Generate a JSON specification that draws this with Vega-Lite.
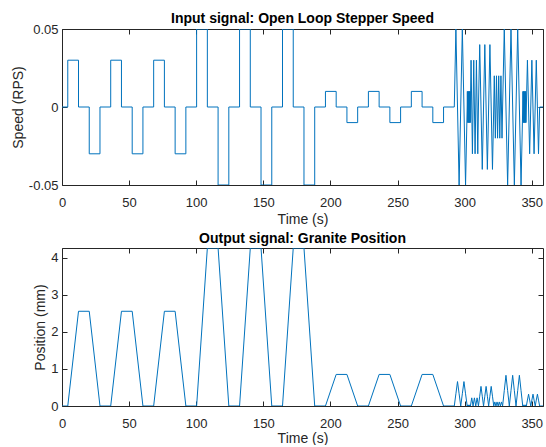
{
  "$schema": "https://vega.github.io/schema/vega-lite/v6.json",
  "padding": {"left": 11, "top": 12, "right": 2, "bottom": 0},
  "spacing": 5,
  "config": {
    "font": "Liberation Sans",
    "view": {"stroke": null},
    "axis": {
      "grid": false,
      "domainColor": "#262626",
      "domainWidth": 1,
      "tickColor": "#262626",
      "tickSize": -5,
      "labelColor": "#262626",
      "labelFont": "Liberation Sans",
      "labelFontSize": 13,
      "titleColor": "#262626",
      "titleFont": "Liberation Sans",
      "titleFontSize": 14,
      "titleFontWeight": "normal",
      "labelFlush": false
    },
    "axisX": {"labelPadding": 16},
    "axisY": {"labelPadding": 9},
    "title": {"font": "Liberation Sans", "fontSize": 14, "fontWeight": "bold", "color": "#000000", "offset": -3, "frame": "group"}
  },
  "datasets": {
    "input": [
      {"t":0,"v":0},{"t":4.3,"v":0},{"t":4.3,"v":0.03},{"t":12.3,"v":0.03},{"t":12.3,"v":0},{"t":20.3,"v":0},{"t":20.3,"v":-0.03},{"t":28.3,"v":-0.03},{"t":28.3,"v":0},{"t":36.3,"v":0},{"t":36.3,"v":0.03},{"t":44.3,"v":0.03},{"t":44.3,"v":0},{"t":52.3,"v":0},{"t":52.3,"v":-0.03},{"t":60.3,"v":-0.03},{"t":60.3,"v":0},{"t":68.3,"v":0},{"t":68.3,"v":0.03},{"t":76.3,"v":0.03},{"t":76.3,"v":0},{"t":84.3,"v":0},{"t":84.3,"v":-0.03},{"t":92.3,"v":-0.03},{"t":92.3,"v":0},{"t":100.3,"v":0},{"t":100.3,"v":0.05},{"t":108.3,"v":0.05},{"t":108.3,"v":0},{"t":116.3,"v":0},{"t":116.3,"v":-0.05},{"t":124.3,"v":-0.05},{"t":124.3,"v":0},{"t":132.3,"v":0},{"t":132.3,"v":0.05},{"t":140.3,"v":0.05},{"t":140.3,"v":0},{"t":148.3,"v":0},{"t":148.3,"v":-0.05},{"t":156.3,"v":-0.05},{"t":156.3,"v":0},{"t":164.3,"v":0},{"t":164.3,"v":0.05},{"t":172.3,"v":0.05},{"t":172.3,"v":0},{"t":180.3,"v":0},{"t":180.3,"v":-0.05},{"t":188.3,"v":-0.05},{"t":188.3,"v":0},{"t":196.3,"v":0},{"t":196.3,"v":0.01},{"t":204.3,"v":0.01},{"t":204.3,"v":0},{"t":212.3,"v":0},{"t":212.3,"v":-0.01},{"t":220.3,"v":-0.01},{"t":220.3,"v":0},{"t":228.3,"v":0},{"t":228.3,"v":0.01},{"t":236.3,"v":0.01},{"t":236.3,"v":0},{"t":244.3,"v":0},{"t":244.3,"v":-0.01},{"t":252.3,"v":-0.01},{"t":252.3,"v":0},{"t":260.3,"v":0},{"t":260.3,"v":0.01},{"t":268.3,"v":0.01},{"t":268.3,"v":0},{"t":276.3,"v":0},{"t":276.3,"v":-0.01},{"t":284.3,"v":-0.01},{"t":284.3,"v":0},{"t":292.3,"v":0},
      {"t":293.5,"v":0.05},{"t":295.9,"v":-0.05},{"t":298.3,"v":0.05},{"t":300.7,"v":-0.05},{"t":301.9,"v":0},
      {"t":302.05,"v":0.01},{"t":302.3,"v":-0.01},{"t":302.55,"v":0.01},{"t":302.8,"v":-0.01},{"t":303.05,"v":0.01},{"t":303.3,"v":-0.01},{"t":303.55,"v":0.01},{"t":303.8,"v":-0.01},{"t":304.05,"v":0.01},{"t":304.2,"v":-0.01},{"t":304.3,"v":0},
      {"t":304.8,"v":0.03},{"t":305.8,"v":-0.03},{"t":306.8,"v":0.03},{"t":307.8,"v":-0.03},{"t":308.8,"v":0.03},{"t":309.8,"v":-0.03},{"t":310.3,"v":0},
      {"t":311.25,"v":0.04},{"t":313.15,"v":-0.04},{"t":315.05,"v":0.04},{"t":316.95,"v":-0.04},{"t":318.85,"v":0.04},{"t":320.75,"v":-0.04},{"t":321.7,"v":0},
      {"t":322.1,"v":0.02},{"t":322.9,"v":-0.02},{"t":323.75,"v":0.02},{"t":324.55,"v":-0.02},{"t":325.4,"v":0.02},{"t":326.2,"v":-0.02},{"t":327.05,"v":0.02},{"t":327.85,"v":-0.02},{"t":328.3,"v":0},
      {"t":329.55,"v":0.05},{"t":332.05,"v":-0.05},{"t":334.55,"v":0.05},{"t":337.05,"v":-0.05},{"t":339.55,"v":0.05},{"t":342.05,"v":-0.05},{"t":343.3,"v":0},
      {"t":343.45,"v":0.01},{"t":343.7,"v":-0.01},{"t":343.95,"v":0.01},{"t":344.2,"v":-0.01},{"t":344.45,"v":0.01},{"t":344.7,"v":-0.01},{"t":344.95,"v":0.01},{"t":345.2,"v":-0.01},{"t":345.45,"v":0.01},{"t":345.7,"v":-0.01},{"t":346.0,"v":0},
      {"t":346.8,"v":0.03},{"t":348.45,"v":-0.03},{"t":350.1,"v":0.03},{"t":351.75,"v":-0.03},{"t":353.4,"v":0.03},{"t":355.05,"v":-0.03},{"t":355.9,"v":0},{"t":358.4,"v":0}
    ],
    "output": [
      {"t":0,"p":0},{"t":4.3,"p":0},{"t":12.3,"p":2.56},{"t":20.3,"p":2.56},{"t":28.3,"p":0},{"t":36.3,"p":0},{"t":44.3,"p":2.56},{"t":52.3,"p":2.56},{"t":60.3,"p":0},{"t":68.3,"p":0},{"t":76.3,"p":2.56},{"t":84.3,"p":2.56},{"t":92.3,"p":0},{"t":100.3,"p":0},{"t":108.3,"p":4.27},{"t":116.3,"p":4.27},{"t":124.3,"p":0},{"t":132.3,"p":0},{"t":140.3,"p":4.27},{"t":148.3,"p":4.27},{"t":156.3,"p":0},{"t":164.3,"p":0},{"t":172.3,"p":4.27},{"t":180.3,"p":4.27},{"t":188.3,"p":0},{"t":196.3,"p":0},{"t":204.3,"p":0.853},{"t":212.3,"p":0.853},{"t":220.3,"p":0},{"t":228.3,"p":0},{"t":236.3,"p":0.853},{"t":244.3,"p":0.853},{"t":252.3,"p":0},{"t":260.3,"p":0},{"t":268.3,"p":0.853},{"t":276.3,"p":0.853},{"t":284.3,"p":0},{"t":292.3,"p":0},
      {"t":293.5,"p":0.33},{"t":294.7,"p":0.66},{"t":295.9,"p":0.33},{"t":297.1,"p":0},{"t":298.3,"p":0.33},{"t":299.5,"p":0.66},{"t":300.7,"p":0.33},{"t":301.9,"p":0},
      {"t":302.3,"p":0.03},{"t":302.7,"p":0},{"t":303.1,"p":0.03},{"t":303.5,"p":0},{"t":303.9,"p":0.03},{"t":304.3,"p":0},
      {"t":305.3,"p":0.22},{"t":306.3,"p":0},{"t":307.3,"p":0.22},{"t":308.3,"p":0},{"t":309.3,"p":0.22},{"t":310.3,"p":0},
      {"t":311.25,"p":0.265},{"t":312.2,"p":0.53},{"t":313.15,"p":0.265},{"t":314.1,"p":0},{"t":315.05,"p":0.265},{"t":316.0,"p":0.53},{"t":316.95,"p":0.265},{"t":317.9,"p":0},{"t":318.85,"p":0.265},{"t":319.8,"p":0.53},{"t":320.75,"p":0.265},{"t":321.7,"p":0},
      {"t":322.5,"p":0.11},{"t":323.35,"p":0},{"t":324.15,"p":0.11},{"t":325.0,"p":0},{"t":325.8,"p":0.11},{"t":326.65,"p":0},{"t":327.45,"p":0.11},{"t":328.3,"p":0},
      {"t":329.55,"p":0.415},{"t":330.8,"p":0.83},{"t":332.05,"p":0.415},{"t":333.3,"p":0},{"t":334.55,"p":0.415},{"t":335.8,"p":0.83},{"t":337.05,"p":0.415},{"t":338.3,"p":0},{"t":339.55,"p":0.415},{"t":340.8,"p":0.83},{"t":342.05,"p":0.415},{"t":343.3,"p":0},
      {"t":343.75,"p":0.03},{"t":344.2,"p":0},{"t":344.65,"p":0.03},{"t":345.1,"p":0},{"t":345.55,"p":0.03},{"t":346.0,"p":0},
      {"t":346.8,"p":0.16},{"t":347.65,"p":0.32},{"t":348.45,"p":0.16},{"t":349.3,"p":0},{"t":350.1,"p":0.16},{"t":350.95,"p":0.32},{"t":351.75,"p":0.16},{"t":352.6,"p":0},{"t":353.4,"p":0.16},{"t":354.25,"p":0.32},{"t":355.05,"p":0.16},{"t":355.9,"p":0},{"t":358.4,"p":0}
    ]
  },
  "vconcat": [
    {
      "width": 481,
      "height": 156,
      "title": "Input signal: Open Loop Stepper Speed",
      "data": {"name": "input"},
      "resolve": {"axis": {"x": "independent", "y": "independent"}},
      "layer": [
        {
          "mark": {"type": "line", "color": "#0072BD", "strokeWidth": 1, "clip": true},
          "encoding": {
            "x": {"field": "t", "type": "quantitative", "scale": {"domain": [0, 358.4], "nice": false, "zero": false},
                  "axis": {"title": "Time (s)", "values": [0,50,100,150,200,250,300,350], "titlePadding": 3}},
            "y": {"field": "v", "type": "quantitative", "scale": {"domain": [-0.05, 0.05], "nice": false},
                  "axis": {"title": "Speed (RPS)", "values": [-0.05, 0, 0.05], "labelExpr": "datum.value > 0.001 ? '0.05' : (datum.value < -0.001 ? '-0.05' : '0')", "titlePadding": 3}},
            "order": {"value": null}
          }
        },
        {
          "mark": {"type": "line", "opacity": 0},
          "encoding": {
            "x": {"field": "t", "type": "quantitative", "axis": {"orient": "top", "labels": false, "title": null, "labelPadding": 0, "minExtent": 0, "maxExtent": 0, "values": [0,50,100,150,200,250,300,350]}},
            "y": {"field": "v", "type": "quantitative", "axis": {"orient": "right", "labels": false, "title": null, "labelPadding": 0, "minExtent": 0, "maxExtent": 0, "values": [-0.05, 0, 0.05]}},
            "order": {"value": null}
          }
        }
      ]
    },
    {
      "width": 481,
      "height": 158,
      "title": {"text": "Output signal: Granite Position", "offset": 2},
      "data": {"name": "output"},
      "resolve": {"axis": {"x": "independent", "y": "independent"}},
      "layer": [
        {
          "mark": {"type": "line", "color": "#0072BD", "strokeWidth": 1, "clip": true},
          "encoding": {
            "x": {"field": "t", "type": "quantitative", "scale": {"domain": [0, 358.4], "nice": false, "zero": false},
                  "axis": {"title": "Time (s)", "values": [0,50,100,150,200,250,300,350], "titlePadding": 1}},
            "y": {"field": "p", "type": "quantitative", "scale": {"domain": [0, 4.27], "nice": false},
                  "axis": {"title": "Position (mm)", "values": [0,1,2,3,4], "titlePadding": 3}},
            "order": {"value": null}
          }
        },
        {
          "mark": {"type": "line", "opacity": 0},
          "encoding": {
            "x": {"field": "t", "type": "quantitative", "axis": {"orient": "top", "labels": false, "title": null, "labelPadding": 0, "minExtent": 0, "maxExtent": 0, "values": [0,50,100,150,200,250,300,350]}},
            "y": {"field": "p", "type": "quantitative", "axis": {"orient": "right", "labels": false, "title": null, "labelPadding": 0, "minExtent": 0, "maxExtent": 0, "values": [0,1,2,3,4]}},
            "order": {"value": null}
          }
        }
      ]
    }
  ]
}
